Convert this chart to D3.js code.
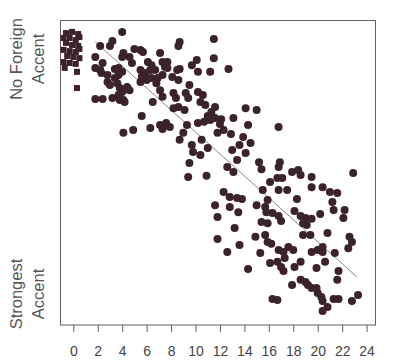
<!DOCTYPE html>
<html>
<head>
<meta charset="utf-8">
<script src="https://cdn.jsdelivr.net/npm/d3@7"></script>
<style>
  body { margin: 0; background: #fff; }
  svg { display: block; font-family: "Liberation Sans", Arial, sans-serif; }
</style>
</head>
<body>
<svg id="chart" width="394" height="362"></svg>
<script>
// age of arrival (years) vs. accent rating (100 = no foreign accent, 0 = strongest)
var xTicks = [0, 2, 4, 6, 8, 10, 12, 14, 16, 18, 20, 22, 24];

// native speakers (squares, plotted around age 0)
var nativeAge = [-0.6, -0.1, 0.4, -0.8, -0.3, 0.2, 0.5, -0.6, -0.1, 0.4, -0.8, -0.3,
                 0.2, 0.5, -0.5, 0.0, 0.5, -0.8, -0.3, 0.2, -0.7, 0.3, 0.3];
var nativeScore = [95.7, 96.1, 95.4, 94.1, 94.1, 93.4, 94.4, 92.5, 91.8, 91.5, 90.2, 89.8,
                   89.5, 90.5, 88.2, 87.9, 87.5, 86.2, 85.9, 85.6, 84.3, 83.0, 77.7];

// learners (circles)
var learnerAge = [
  4.0, 3.2, 3.0, 2.2, 1.8, 2.4, 1.8, 2.2, 2.3, 2.8, 4.1, 4.0, 3.4, 3.7, 4.0, 3.7, 3.4, 2.8,
  3.0, 3.6, 3.8, 4.0, 3.7, 3.2, 3.8, 4.4, 4.6, 4.1, 4.2, 1.8, 2.4, 5.0, 5.5, 5.7, 4.6, 4.8,
  5.5, 6.1, 6.4, 7.1, 6.7, 6.3, 5.9, 5.6, 5.5, 6.0, 6.4, 6.9, 7.3, 6.8, 7.3, 7.5, 7.1, 6.5,
  5.6, 6.3, 4.1, 4.9, 7.1, 7.6, 7.3, 7.9, 9.3, 9.0, 8.7,
  8.7, 8.6, 11.5, 11.5, 10.1, 9.7, 10.2, 11.2, 12.7, 8.7, 8.5, 7.7, 7.7, 8.1, 8.6, 9.5,
  8.2, 8.4, 9.2, 9.4, 7.3, 10.2, 10.6, 10.4, 10.8, 8.6, 8.2, 9.1, 11.6, 11.3, 11.0, 11.6,
  12.1, 12.0, 13.1, 14.1, 15.0, 10.2, 10.7, 11.2, 14.3, 11.8, 12.3, 12.9, 9.7, 9.8, 10.4,
  10.5, 11.0, 13.9, 14.5, 13.6, 13.0, 14.1, 13.4, 15.2, 15.4, 9.5, 9.4, 10.9, 12.6, 13.1,
  16.8, 16.9, 16.8, 16.7, 17.1, 16.1, 17.9, 18.4, 18.6, 19.5, 19.5, 22.9, 15.5, 16.8, 17.5,
  18.3, 20.4, 21.0, 21.6, 21.2, 21.3, 22.2, 22.1, 18.1, 18.6, 19.0, 18.8, 19.1, 19.5, 20.2,
  15.9, 15.7, 15.0,
  12.3, 12.8, 13.4, 13.8, 11.6, 12.8, 13.5, 11.8, 13.2, 11.8, 13.6, 12.6, 15.8, 16.3, 16.8,
  17.0, 15.4, 15.9, 14.9, 15.7, 15.9, 16.2, 15.3, 16.8, 17.3, 16.1, 16.7, 17.0, 17.2, 14.3,
  16.3, 16.7, 17.9, 18.6, 19.0, 19.2, 19.5, 19.9, 20.0, 20.3, 20.4, 18.8, 19.4, 20.8, 22.6,
  22.8, 22.5, 17.6, 18.0, 17.2, 19.5, 20.0, 20.4, 20.4, 21.4, 18.6, 18.1, 19.9, 20.6, 21.7,
  21.6, 21.3, 21.7, 22.8, 23.3, 20.8, 20.4
];
var learnerScore = [
  96.1, 93.1, 91.5, 91.5, 87.9, 85.9, 84.3, 83.6, 82.6, 82.0, 89.2, 87.9, 83.9, 84.3, 83.0, 82.0, 81.0, 79.7,
  78.7, 79.3, 77.7, 76.4, 75.4, 74.4, 73.8, 78.0, 77.0, 73.8, 73.1, 74.1, 74.1, 90.5, 90.2, 89.5, 87.9, 85.9,
  83.6, 86.2, 85.2, 89.2, 83.6, 83.6, 82.6, 81.3, 79.7, 80.3, 81.0, 81.0, 82.0, 79.3, 86.2, 84.6, 77.0, 73.1,
  68.5, 64.6, 63.0, 63.9, 65.6, 66.2, 64.3, 64.9, 65.6, 63.0, 60.7,
  92.8, 91.5, 93.8, 87.5, 86.9, 85.2, 83.0, 83.0, 83.9, 83.9, 83.6, 86.2, 84.3, 81.3, 80.3, 78.7,
  76.1, 74.4, 76.1, 74.4, 74.8, 76.4, 75.4, 73.1, 72.1, 71.5, 71.1, 70.5, 71.5, 69.8, 68.5, 67.9,
  67.5, 65.9, 67.9, 71.1, 70.5, 66.2, 66.6, 67.2, 65.6, 63.0, 63.9, 62.6, 59.0, 56.7, 55.7,
  60.7, 58.0, 61.6, 59.7, 59.0, 57.4, 56.4, 54.1, 53.4, 51.1, 53.1, 48.5, 48.9, 51.8, 50.2,
  64.9, 53.4, 51.8, 48.2, 48.2, 46.9, 50.2, 50.8, 49.2, 48.5, 45.2, 49.8, 44.3, 44.3, 44.3,
  41.3, 45.2, 43.6, 43.3, 40.3, 37.7, 37.7, 35.1, 37.4, 35.7, 35.1, 33.4, 32.8, 34.8, 36.4,
  41.0, 38.7, 39.3,
  43.6, 42.0, 41.6, 41.3, 39.3, 38.7, 37.0, 35.4, 31.8, 28.2, 26.2, 23.9, 37.0, 36.7, 35.7,
  34.1, 33.8, 33.4, 28.9, 29.5, 27.2, 26.6, 23.6, 24.6, 22.0, 20.3, 20.7, 19.0, 17.7, 18.4,
  8.5, 8.2, 13.1, 14.8, 14.1, 13.1, 12.1, 12.1, 10.5, 9.2, 7.9, 29.5, 29.5, 30.2, 28.9,
  27.2, 25.2, 25.6, 24.6, 23.9, 23.9, 24.6, 25.6, 23.9, 23.6, 20.7, 19.0, 18.7, 20.7, 17.7,
  14.8, 8.5, 8.5, 7.9, 9.8, 5.9, 4.6
];

// fitted regression line
var fitAges = [1.8, 23.2];
var fitIntercept = 99.3;
var fitSlope = -3.6;

var svg = d3.select('#chart');
var x = d3.scaleLinear().domain([0, 24]).range([73.3, 366.6]);
var y = d3.scaleLinear().domain([0, 100]).range([325, 20]);
var ink = '#3a2329';

// frame
svg.append('rect')
  .attr('x', 60.5).attr('y', 20.5)
  .attr('width', 315).attr('height', 304.5)
  .attr('fill', 'none')
  .attr('stroke', '#6b5c60')
  .attr('stroke-width', 1);

// x axis
var xAxis = d3.axisBottom(x)
  .tickValues(xTicks)
  .tickSize(7)
  .tickSizeOuter(0)
  .tickPadding(14);
var gx = svg.append('g')
  .attr('transform', 'translate(0,325)')
  .call(xAxis);
gx.select('.domain').remove();
gx.selectAll('.tick line').attr('stroke', '#6b5c60');
gx.selectAll('.tick text')
  .attr('fill', '#444')
  .style('font-size', '14px');

// regression line
svg.append('line')
  .attr('x1', x(fitAges[0]))
  .attr('y1', y(fitIntercept + fitSlope * fitAges[0]))
  .attr('x2', x(fitAges[1]))
  .attr('y2', y(fitIntercept + fitSlope * fitAges[1]))
  .attr('stroke', '#8a8a8a')
  .attr('stroke-width', 1);

// native squares
var sq = 6;
svg.append('g').selectAll('rect')
  .data(nativeAge)
  .join('rect')
  .attr('x', function(d) { return x(d) - sq / 2; })
  .attr('y', function(d, i) { return y(nativeScore[i]) - sq / 2; })
  .attr('width', sq).attr('height', sq)
  .attr('fill', ink);

// learner dots
svg.append('g').selectAll('circle')
  .data(learnerAge)
  .join('circle')
  .attr('cx', function(d) { return x(d); })
  .attr('cy', function(d, i) { return y(learnerScore[i]); })
  .attr('r', 4)
  .attr('fill', ink);

// y axis captions
function caption(lines, cy) {
  var t = svg.append('text')
    .attr('transform', 'translate(0,' + cy + ') rotate(-90)')
    .attr('text-anchor', 'middle')
    .attr('fill', '#555')
    .style('font-size', '16.5px');
  t.append('tspan').attr('x', 0).attr('y', 22).text(lines[0]);
  t.append('tspan').attr('x', 0).attr('y', 44).text(lines[1]);
}
caption(['No Foreign', 'Accent'], 59);
caption(['Strongest', 'Accent'], 294);
</script>
</body>
</html>
